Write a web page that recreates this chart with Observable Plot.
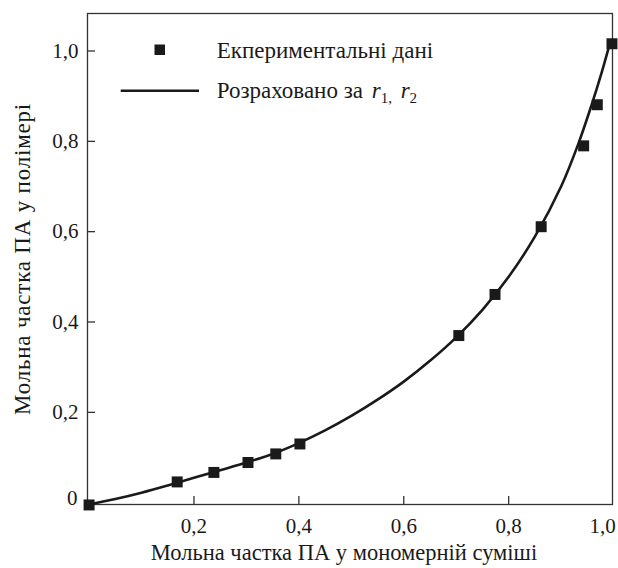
<!DOCTYPE html>
<html><head><meta charset="utf-8">
<script src="https://cdn.jsdelivr.net/npm/d3@7"></script>
<script src="https://cdn.jsdelivr.net/npm/@observablehq/plot@0.6"></script>
<style>body{margin:0;background:#fff} svg{display:block}</style>
</head><body><div id="chart"></div>
<script>
const xTicks = [0.2, 0.4, 0.6, 0.8];
const xTickEnd = [1.0];
const yTicks = [0.2, 0.4, 0.6, 0.8, 1.0];
const yTickZero = [0];
const expX = [0, 0.168, 0.238, 0.303, 0.356, 0.402, 0.705, 0.774, 0.862, 0.943, 0.969, 0.997];
const expY = [-0.005, 0.046, 0.067, 0.089, 0.108, 0.130, 0.370, 0.461, 0.611, 0.790, 0.881, 1.016];
const calcX = [0, 0.05, 0.10, 0.15, 0.20, 0.25, 0.30, 0.35, 0.40, 0.45, 0.50, 0.55, 0.60, 0.65, 0.70, 0.75, 0.80, 0.85, 0.90, 0.933, 0.958, 0.977, 0.993];
const calcY = [-0.004, 0.008, 0.022, 0.038, 0.055, 0.072, 0.089, 0.108, 0.132, 0.160, 0.192, 0.228, 0.268, 0.314, 0.366, 0.427, 0.500, 0.589, 0.700, 0.795, 0.880, 0.951, 1.017];
const xLabel = "Мольна частка ПА у мономерній суміші";
const yLabel = "Мольна частка ПА у полімері";
const legendExp = "Екпериментальні дані";
const legendCalc = "Розраховано за";

const exp = expX.map((x, i) => ({x, y: expY[i]}));
const calc = calcX.map((x, i) => ({x, y: calcY[i]}));
const fmt = d => d === 0 ? "0" : d3.format(".1f")(d).replace(".", ",");
const ink = "#1a1a1a";
const font = "'Liberation Serif', 'DejaVu Serif', serif";

const plot = Plot.plot({
  width: 618, height: 568,
  marginLeft: 87, marginRight: 6, marginTop: 13, marginBottom: 64,
  style: {fontFamily: font, fontSize: "21px", color: ink, background: "#fff"},
  x: {domain: [-0.003, 0.998]},
  y: {domain: [-0.004, 1.083]},
  marks: [
    Plot.frame({stroke: "#333", strokeWidth: 1.3}),
    Plot.axisX(xTicks, {tickSize: -8, tickPadding: 22, tickFormat: fmt, label: null, stroke: "#333", strokeWidth: 1.3, fontSize: 21}),
    Plot.axisX(xTickEnd, {tickSize: 0, tickPadding: 14, tickFormat: fmt, label: null, dx: -11, fontSize: 21}),
    Plot.axisY(yTicks, {tickSize: -8, tickPadding: 17, tickFormat: fmt, label: null, stroke: "#333", strokeWidth: 1.3, fontSize: 21}),
    Plot.axisY(yTickZero, {tickSize: 0, tickPadding: 10, tickFormat: fmt, label: null, dy: -4, fontSize: 21}),
    Plot.line(calc, {x: "x", y: "y", curve: "catmull-rom", strokeWidth: 2.6, stroke: ink}),
    Plot.dot(exp, {x: "x", y: "y", symbol: "square", r: 6.2, fill: ink, stroke: "none"}),
    Plot.text([xLabel], {text: d => d, frameAnchor: "bottom", dy: 55, dx: -6, fontSize: 22.5}),
    Plot.text([yLabel], {text: d => d, frameAnchor: "left", textAnchor: "middle", dx: -65, rotate: -90, fontSize: 23, className: "ylab"})
  ]
});

const svg = d3.select(plot);
svg.selectAll(".ylab text").style("letter-spacing", "0.8px");
const g = svg.append("g").attr("font-size", 23).attr("fill", ink).attr("text-anchor", "start");
g.append("rect").attr("x", 154.5).attr("y", 44.5).attr("width", 10.5).attr("height", 10.5);
g.append("text").attr("x", 216.7).attr("y", 50).attr("dy", "0.35em").text(legendExp);
g.append("line").attr("x1", 120.7).attr("x2", 199).attr("y1", 90.7).attr("y2", 90.7)
  .attr("stroke", ink).attr("stroke-width", 2.6);
const t = g.append("text").attr("x", 216.7).attr("y", 90).attr("dy", "0.35em");
t.append("tspan").text(legendCalc + " ");
t.append("tspan").attr("font-style", "italic").attr("dx", 3).text("r");
t.append("tspan").attr("font-size", 15).attr("dy", 5).text("1,");
t.append("tspan").attr("dy", -5).text(" ");
t.append("tspan").attr("font-style", "italic").attr("dx", 3).text("r");
t.append("tspan").attr("font-size", 15).attr("dy", 5).text("2");

document.getElementById("chart").appendChild(plot);
</script>
</body></html>
